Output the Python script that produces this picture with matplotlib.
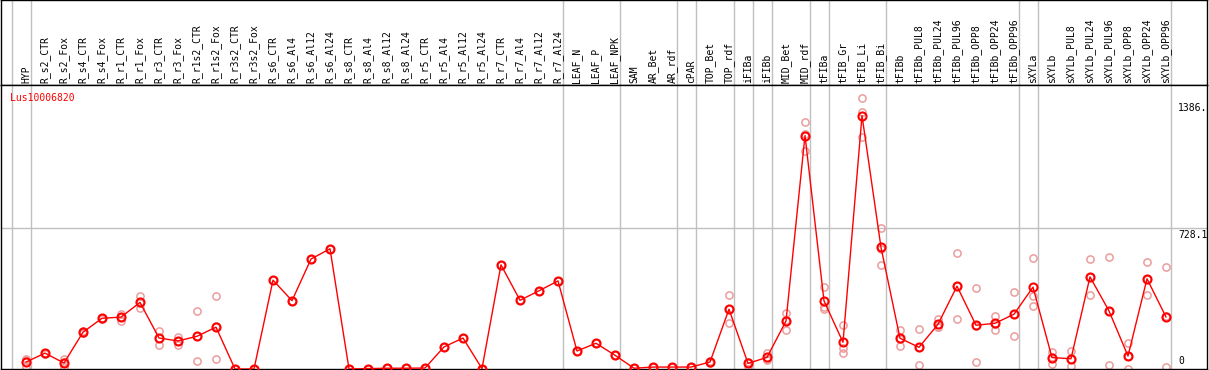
import matplotlib.pyplot as plt
import numpy as np

gene = "Lus10006820"

samples = ["HYP", "R_s2_CTR", "R_s2_Fox", "R_s4_CTR", "R_s4_Fox", "R_r1_CTR", "R_r1_Fox",
           "R_r3_CTR", "R_r3_Fox", "R_r1s2_CTR", "R_r1s2_Fox", "R_r3s2_CTR", "R_r3s2_Fox",
           "R_s6_CTR", "R_s6_Al4", "R_s6_Al12", "R_s6_Al24", "R_s8_CTR", "R_s8_Al4",
           "R_s8_Al12", "R_s8_Al24", "R_r5_CTR", "R_r5_Al4", "R_r5_Al12", "R_r5_Al24",
           "R_r7_CTR", "R_r7_Al4", "R_r7_Al12", "R_r7_Al24", "LEAF_N", "LEAF_P", "LEAF_NPK",
           "SAM", "AR_Bet", "AR_rdf", "cPAR", "TOP_Bet", "TOP_rdf", "iFIBa", "iFIBb",
           "MID_Bet", "MID_rdf", "tFIBa", "tFIB_Gr", "tFIB_Li", "tFIB_Bi", "tFIBb",
           "tFIBb_PUL8", "tFIBb_PUL24", "tFIBb_PUL96", "tFIBb_OPP8", "tFIBb_OPP24",
           "tFIBb_OPP96", "sXYLa", "sXYLb", "sXYLb_PUL8", "sXYLb_PUL24", "sXYLb_PUL96",
           "sXYLb_OPP8", "sXYLb_OPP24", "sXYLb_OPP96"]

means = [36, 82, 31, 190, 262, 268, 344, 160, 145, 169, 216, 0, 0,
         459, 353, 568, 621, 0, 2, 4, 4, 5, 114, 160, 2,
         538, 355, 404, 455, 93, 133, 71,
         4, 10, 10, 10, 36, 309, 29, 60,
         248, 1206, 352, 138, 1309, 628, 159,
         112, 231, 428, 226, 236, 283,
         423, 59, 53, 476, 300, 67, 466, 269]

reps = [[9, 50, 49], [82, 80, 84], [50, 9, 34], [198, 186, 186], [262, 258, 266],
        [285, 248, 271], [378, 314, 340], [195, 123, 162], [164, 126, 145],
        [298, 41, 168], [377, 51, 220], [0, 0, 0], [0, 0, 0],
        [459, 459, 459], [353, 353, 353], [568, 568, 568], [621, 621, 621],
        [0, 0, 0], [2, 2, 2], [4, 4, 4], [4, 4, 4], [5, 5, 5], [114, 114, 114],
        [160, 160, 160], [2, 2, 2],
        [538, 538, 538], [355, 355, 355], [404, 404, 404], [455, 455, 455],
        [93, 93, 93], [133, 133, 133], [71, 71, 71],
        [4, 4, 4], [10, 10, 10], [10, 10, 10], [10, 10, 10], [40, 30, 38],
        [381, 236, 310], [16, 36, 35], [81, 47, 53],
        [290, 202, 252], [1277, 1128, 1213], [423, 322, 309], [226, 107, 81],
        [1401, 1330, 1199], [728, 537, 619], [202, 119, 156],
        [205, 19, 112], [257, 219, 217], [599, 257, 428], [418, 36, 224],
        [274, 200, 234], [397, 169, 283],
        [573, 378, 324], [90, 24, 63], [93, 16, 50], [568, 383, 477],
        [580, 21, 299], [133, 2, 66], [552, 383, 463], [526, 9, 272]]

# last sample of each group (0 = before the first)
group_ends = [0, 1, 29, 32, 35, 36, 38, 39, 40, 42, 43, 46, 53, 54, 61]

ytick_vals = [1386, 728.1, 0]
ytick_labels = ["1386.", "728.1", "0"]
ymax = 1467

mono = "DejaVu Sans Mono"
grey = "#c0c0c0"

W, H = 1209, 370
fig = plt.figure(figsize=(W / 100, H / 100), dpi=100)
head_px = 85
x0, x1 = 1, 1207
ax_h = fig.add_axes([x0 / W, (H - head_px) / H, (x1 - x0) / W, head_px / H])
ax = fig.add_axes([x0 / W, 1 / H, (x1 - x0) / W, (H - head_px - 1) / H])

xs = np.arange(1, len(samples) + 1)
xlim = (-0.316, 63.158)

for a in (ax, ax_h):
    a.set_xlim(*xlim)
    a.set_xticks([])
    a.set_yticks([])
    for s in a.spines.values():
        s.set_color("black")
        s.set_linewidth(1.0)
    for g in group_ends:
        a.axvline(g + 0.247, color=grey, lw=1.0, zorder=0)

ax_h.set_ylim(0, 1)
for x, name in zip(xs, samples):
    ax_h.text(x, 0.024, name, rotation=90, ha="center", va="bottom",
              fontsize=7, family=mono, color="black")

ax.set_ylim(0, ymax)
ax.axhline(728.1, color=grey, lw=1.0, zorder=0)

reps_arr = np.array(reps, dtype=float)
for k in range(reps_arr.shape[1]):
    ax.plot(xs, reps_arr[:, k], "o", ms=5.2, mfc="none", mec="#eb9c9c", mew=1.1, zorder=2)

ax.plot(xs, means, color="red", lw=1.0, marker="o", ms=5.8, mfc="none",
        mec="red", mew=1.5, zorder=3)

lab_x = (1178 - x0) / (x1 - x0)
for v, lab in zip(ytick_vals, ytick_labels):
    if v > 0:
        ax.annotate(lab, xy=(lab_x, v), xycoords=("axes fraction", "data"),
                    xytext=(0, -1.5), textcoords="offset points",
                    ha="left", va="top", fontsize=7, family=mono)
    else:
        ax.annotate(lab, xy=(lab_x, v), xycoords=("axes fraction", "data"),
                    xytext=(0, 2.5), textcoords="offset points",
                    ha="left", va="bottom", fontsize=7, family=mono)

ax.text(9 / (x1 - x0), 1 - 12.7 / (H - head_px - 1), gene, transform=ax.transAxes,
        ha="left", va="center", fontsize=7, family=mono, color="red")

fig.savefig("out.png", dpi=100)
